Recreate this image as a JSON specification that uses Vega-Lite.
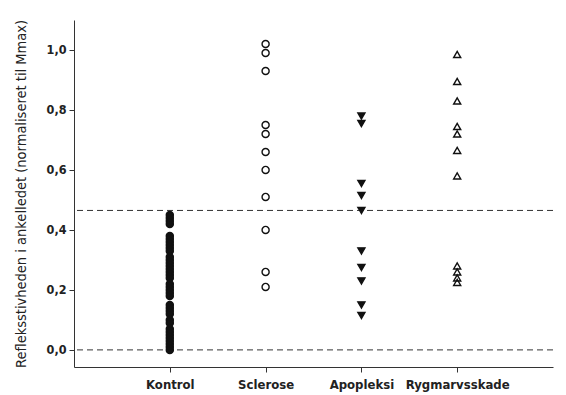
{
  "$schema": "https://vega.github.io/schema/vega-lite/v6.json",
  "width": 479,
  "height": 347,
  "autosize": {"type": "none"},
  "padding": {"left": 74, "top": 20, "right": 13, "bottom": 28},
  "background": "white",
  "config": {"view": {"stroke": null}, "font": "DejaVu Sans Condensed"},
  "datasets": {
    "pts": [
      {"group": "Kontrol", "value": 0.45}, {"group": "Kontrol", "value": 0.44}, {"group": "Kontrol", "value": 0.43},
      {"group": "Kontrol", "value": 0.42}, {"group": "Kontrol", "value": 0.38}, {"group": "Kontrol", "value": 0.37},
      {"group": "Kontrol", "value": 0.36}, {"group": "Kontrol", "value": 0.35}, {"group": "Kontrol", "value": 0.34},
      {"group": "Kontrol", "value": 0.33}, {"group": "Kontrol", "value": 0.31}, {"group": "Kontrol", "value": 0.3},
      {"group": "Kontrol", "value": 0.29}, {"group": "Kontrol", "value": 0.28}, {"group": "Kontrol", "value": 0.27},
      {"group": "Kontrol", "value": 0.26}, {"group": "Kontrol", "value": 0.25}, {"group": "Kontrol", "value": 0.24},
      {"group": "Kontrol", "value": 0.22}, {"group": "Kontrol", "value": 0.21}, {"group": "Kontrol", "value": 0.2},
      {"group": "Kontrol", "value": 0.19}, {"group": "Kontrol", "value": 0.18}, {"group": "Kontrol", "value": 0.15},
      {"group": "Kontrol", "value": 0.14}, {"group": "Kontrol", "value": 0.13}, {"group": "Kontrol", "value": 0.12},
      {"group": "Kontrol", "value": 0.1}, {"group": "Kontrol", "value": 0.09}, {"group": "Kontrol", "value": 0.07},
      {"group": "Kontrol", "value": 0.06}, {"group": "Kontrol", "value": 0.05}, {"group": "Kontrol", "value": 0.04},
      {"group": "Kontrol", "value": 0.03}, {"group": "Kontrol", "value": 0.02}, {"group": "Kontrol", "value": 0.01},
      {"group": "Kontrol", "value": 0.0},
      {"group": "Sclerose", "value": 1.02}, {"group": "Sclerose", "value": 0.99}, {"group": "Sclerose", "value": 0.93},
      {"group": "Sclerose", "value": 0.75}, {"group": "Sclerose", "value": 0.72}, {"group": "Sclerose", "value": 0.66},
      {"group": "Sclerose", "value": 0.6}, {"group": "Sclerose", "value": 0.51}, {"group": "Sclerose", "value": 0.4},
      {"group": "Sclerose", "value": 0.26}, {"group": "Sclerose", "value": 0.21},
      {"group": "Apopleksi", "value": 0.78}, {"group": "Apopleksi", "value": 0.755}, {"group": "Apopleksi", "value": 0.555},
      {"group": "Apopleksi", "value": 0.515}, {"group": "Apopleksi", "value": 0.465}, {"group": "Apopleksi", "value": 0.33},
      {"group": "Apopleksi", "value": 0.275}, {"group": "Apopleksi", "value": 0.23}, {"group": "Apopleksi", "value": 0.15},
      {"group": "Apopleksi", "value": 0.115},
      {"group": "Rygmarvsskade", "value": 0.985}, {"group": "Rygmarvsskade", "value": 0.895}, {"group": "Rygmarvsskade", "value": 0.83},
      {"group": "Rygmarvsskade", "value": 0.745}, {"group": "Rygmarvsskade", "value": 0.72}, {"group": "Rygmarvsskade", "value": 0.665},
      {"group": "Rygmarvsskade", "value": 0.58}, {"group": "Rygmarvsskade", "value": 0.28}, {"group": "Rygmarvsskade", "value": 0.26},
      {"group": "Rygmarvsskade", "value": 0.24}, {"group": "Rygmarvsskade", "value": 0.225}
    ],
    "refs": [{"level": 0.0}, {"level": 0.465}]
  },
  "layer": [
    {
      "data": {"name": "refs"},
      "mark": {"type": "rule", "strokeDash": [6, 4], "color": "#333", "strokeWidth": 1},
      "encoding": {
        "y": {"field": "level", "type": "quantitative", "scale": {"domain": [-0.057, 1.1], "nice": false, "zero": false}}
      }
    },
    {
      "data": {"name": "pts"},
      "mark": {"type": "point", "size": 50, "strokeWidth": 1.4},
      "encoding": {
        "x": {
          "field": "group", "type": "nominal",
          "scale": {"type": "point", "padding": 1, "domain": ["Kontrol", "Sclerose", "Apopleksi", "Rygmarvsskade"]},
          "axis": {
            "title": null, "labelAngle": 0, "labelFontWeight": "bold", "labelFontSize": 13,
            "labelColor": "#222", "tickColor": "#333", "domainColor": "#333", "tickSize": 5,
            "labelPadding": 6, "grid": false
          }
        },
        "y": {
          "field": "value", "type": "quantitative",
          "scale": {"domain": [-0.057, 1.1], "nice": false, "zero": false},
          "axis": {
            "title": "Refleksstivheden i ankelledet (normaliseret til Mmax)",
            "titleFontSize": 14.5, "titleFontWeight": 500, "titleColor": "#222", "titlePadding": 18,
            "values": [0, 0.2, 0.4, 0.6, 0.8, 1.0],
            "labelExpr": "replace(format(datum.value, '.1f'), '.', ',')",
            "labelFontWeight": "bold", "labelFontSize": 12.5, "labelColor": "#222",
            "tickColor": "#333", "domainColor": "#333", "tickSize": 5, "labelPadding": 3, "grid": false
          }
        },
        "shape": {
          "field": "group", "type": "nominal",
          "scale": {"domain": ["Kontrol", "Sclerose", "Apopleksi", "Rygmarvsskade"], "range": ["circle", "circle", "triangle-down", "triangle-up"]},
          "legend": null
        },
        "fill": {
          "field": "group", "type": "nominal",
          "scale": {"domain": ["Kontrol", "Sclerose", "Apopleksi", "Rygmarvsskade"], "range": ["#111", "transparent", "#111", "transparent"]},
          "legend": null
        },
        "stroke": {"value": "#111"},
        "opacity": {"value": 1}
      }
    }
  ]
}
